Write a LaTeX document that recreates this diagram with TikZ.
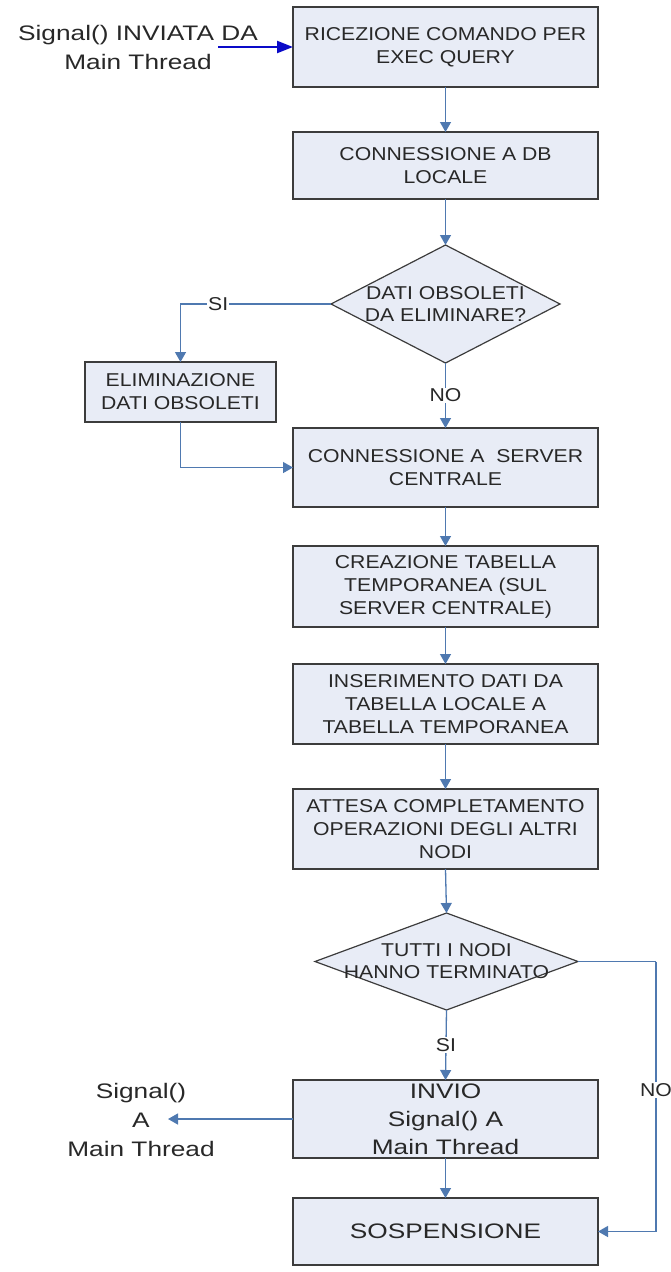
\documentclass[tikz,border=0pt]{standalone}
\usepackage{fontspec}
\setmainfont{Liberation Sans}
\newfontfamily\boxfont[FakeStretch=1.14]{Liberation Sans}
\newfontfamily\sigfont[FakeStretch=1.25]{Liberation Sans}
\usetikzlibrary{arrows.meta,shapes.geometric}

\definecolor{boxfill}{RGB}{232,236,246}
\definecolor{boxline}{RGB}{60,60,60}
\definecolor{flow}{RGB}{79,121,176}
\definecolor{sigblue}{RGB}{10,10,200}
\definecolor{txt}{RGB}{40,40,40}

\tikzset{
  stepbox/.style={draw=boxline, line width=1.5pt, fill=boxfill, minimum width=305pt,
    inner sep=0pt, outer sep=0pt, align=center, text=txt,
    font=\boxfont\fontsize{18.6}{23}\selectfont},
  bigtext/.style={font=\sigfont\fontsize{21}{28}\selectfont},
  choice/.style={diamond, draw=boxline, line width=1.2pt, fill=boxfill,
    inner sep=0pt, outer sep=0pt},
  choicetext/.style={align=center, text=txt, inner sep=0pt,
    font=\boxfont\fontsize{18.6}{22}\selectfont},
  flowline/.style={draw=flow, line width=1.3pt,
    -{Triangle[length=10pt,width=11pt]}},
  plainline/.style={draw=flow, line width=1.3pt},
  lab/.style={fill=white, text=txt, inner sep=1pt,
    font=\boxfont\fontsize{18.6}{22}\selectfont},
  sidetext/.style={align=center, text=txt, inner sep=0pt,
    font=\sigfont\fontsize{21}{29}\selectfont},
}

\begin{document}
\begin{tikzpicture}[x=1pt,y=-1pt]
  \useasboundingbox (0,0) rectangle (671,1272);

  % main column of steps
  \node[stepbox, minimum height=80pt] (b1) at (445.5,47)
    {RICEZIONE COMANDO PER\\EXEC QUERY};
  \node[stepbox, minimum height=67pt] (b2) at (445.5,165.5)
    {CONNESSIONE A DB\\LOCALE};
  \node[choice, minimum width=229pt, minimum height=118pt] (d1) at (445.5,304) {};
  \node[choicetext] at (d1.center) {DATI OBSOLETI\\DA ELIMINARE?};
  \node[stepbox, minimum width=191pt, minimum height=60pt] (elim) at (180.5,392)
    {ELIMINAZIONE\\DATI OBSOLETI};
  \node[stepbox, minimum height=79pt] (b3) at (445.5,467.5)
    {CONNESSIONE A \ SERVER\\CENTRALE};
  \node[stepbox, minimum height=81pt] (b4) at (445.5,586.5)
    {CREAZIONE TABELLA\\TEMPORANEA (SUL\\SERVER CENTRALE)};
  \node[stepbox, minimum height=80pt] (b5) at (445.5,704)
    {INSERIMENTO DATI DA\\TABELLA LOCALE A\\TABELLA TEMPORANEA};
  \node[stepbox, minimum height=80pt] (b6) at (445.5,829)
    {ATTESA COMPLETAMENTO\\OPERAZIONI DEGLI ALTRI\\NODI};
  \node[choice, minimum width=263pt, minimum height=97pt] (d2) at (446.5,961.5) {};
  \node[choicetext] at (d2.center) {TUTTI I NODI\\HANNO TERMINATO};
  \node[stepbox, bigtext, minimum height=78pt] (b7) at (445.5,1119)
    {INVIO\\Signal() A\\Main Thread};
  \node[stepbox, bigtext, minimum height=67pt] (b8) at (445.5,1231.5)
    {SOSPENSIONE};

  % side texts
  \node[sidetext] (sigin) at (138,47) {Signal() INVIATA DA\\Main Thread};
  \node[sidetext] (sigout) at (141,1120) {Signal()\\A\\Main Thread};
  \coordinate (inStart) at (218,47);
  \coordinate (outTip) at (168,1119);
  \coordinate (noTurn) at (656,961.5);

  % incoming signal
  \draw[draw=sigblue, line width=2.2pt, -{Triangle[length=16pt,width=12pt]}]
    (inStart) -- (b1.west);

  % flow connectors
  \draw[flowline] (b1) -- (b2);
  \draw[flowline] (b2) -- (d1);
  \draw[flowline] (d1.west) -| node[lab, pos=0.375] {SI} (elim.north);
  \draw[flowline] (d1.south) -- node[lab, midway] {NO} (b3.north);
  \draw[flowline] (elim.south) |- (b3.west);
  \draw[flowline] (b3) -- (b4);
  \draw[flowline] (b4) -- (b5);
  \draw[flowline] (b5) -- (b6);
  \draw[flowline] (b6.south) -- (d2.north);
  \draw[flowline] (d2.south) -- node[lab, midway] {SI} (b7.north);
  \draw[flowline] (b7.west) -- (outTip);
  \draw[flowline] (b7) -- (b8);
  \draw[plainline] (d2.east) -- (noTurn);
  \draw[flowline] (noTurn) |- node[lab, pos=0.238] {NO} (b8.east);
\end{tikzpicture}
\end{document}
